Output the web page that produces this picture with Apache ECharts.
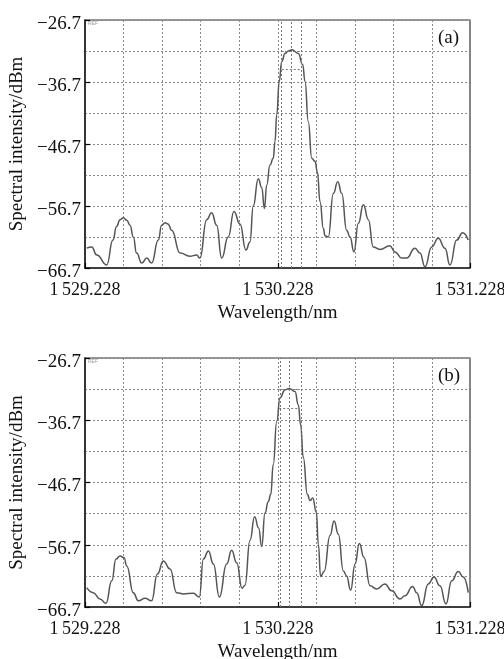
<!DOCTYPE html>
<html>
<head>
<meta charset="utf-8">
<script src="https://cdn.jsdelivr.net/npm/echarts@6/dist/echarts.min.js"></script>
<style>
html,body{margin:0;padding:0;background:#fff;}
#c{width:504px;height:659px;}
</style>
</head>
<body>
<div id="c"></div>
<script>
// ---- data (a) ----
const waveA = [1529.237,1529.263,1529.289,1529.341,1529.373,1529.392,1529.410,1529.427,1529.445,1529.462,1529.479,1529.496,1529.523,1529.549,1529.574,1529.609,1529.626,1529.644,1529.659,1529.678,1529.722,1529.773,1529.808,1529.825,1529.860,1529.886,1529.912,1529.938,1529.972,1530.002,1530.033,1530.064,1530.085,1530.102,1530.128,1530.146,1530.160,1530.172,1530.189,1530.206,1530.215,1530.224,1530.237,1530.250,1530.267,1530.284,1530.302,1530.336,1530.359,1530.371,1530.388,1530.406,1530.423,1530.435,1530.449,1530.466,1530.475,1530.492,1530.518,1530.541,1530.562,1530.587,1530.605,1530.625,1530.648,1530.674,1530.700,1530.725,1530.760,1530.812,1530.838,1530.873,1530.899,1530.942,1530.968,1530.994,1531.029,1531.063,1531.098,1531.124,1531.159,1531.190,1531.219];
const powerA = [-63.5,-63.3,-64.6,-66.2,-62.2,-60.0,-58.9,-58.6,-59.0,-59.8,-61.7,-64.3,-65.9,-65.1,-65.9,-62.2,-59.8,-59.4,-59.6,-60.6,-64.3,-64.8,-64.6,-65.1,-58.9,-57.8,-59.8,-65.1,-61.7,-57.6,-59.6,-63.8,-62.5,-56.7,-52.3,-53.7,-57.1,-53.3,-50.1,-49.0,-46.3,-42.0,-36.6,-33.4,-32.1,-31.7,-31.5,-32.1,-33.9,-36.6,-43.1,-49.0,-49.5,-51.2,-56.0,-60.3,-61.5,-61.7,-54.7,-52.8,-54.7,-60.6,-61.7,-64.1,-59.5,-56.5,-58.9,-63.3,-63.7,-63.1,-64.1,-65.1,-65.1,-63.5,-64.3,-66.5,-63.3,-61.9,-63.5,-66.2,-62.2,-61.0,-62.2];
const markersA = [1530.250, 1530.302, 1530.354];
// ---- data (b) ----
const waveB = [1529.237,1529.271,1529.306,1529.337,1529.367,1529.389,1529.410,1529.431,1529.445,1529.479,1529.505,1529.540,1529.574,1529.604,1529.635,1529.670,1529.704,1529.739,1529.791,1529.822,1529.843,1529.869,1529.895,1529.926,1529.964,1529.990,1530.016,1530.044,1530.059,1530.085,1530.109,1530.130,1530.146,1530.163,1530.180,1530.193,1530.206,1530.224,1530.241,1530.267,1530.289,1530.319,1530.336,1530.348,1530.362,1530.383,1530.397,1530.411,1530.430,1530.440,1530.452,1530.470,1530.501,1530.522,1530.544,1530.570,1530.587,1530.608,1530.631,1530.653,1530.677,1530.709,1530.743,1530.786,1530.821,1530.864,1530.890,1530.930,1530.951,1530.977,1531.011,1531.041,1531.072,1531.103,1531.133,1531.167,1531.193,1531.219];
const powerB = [-63.6,-64.4,-65.4,-66.1,-62.5,-59.0,-58.5,-58.8,-60.1,-64.4,-65.7,-65.3,-65.7,-61.4,-59.3,-60.6,-64.4,-64.6,-64.5,-65.1,-59.0,-57.7,-59.8,-65.1,-59.8,-57.6,-59.6,-63.7,-63.2,-56.0,-52.2,-54.0,-57.0,-51.6,-49.8,-48.6,-43.8,-36.9,-33.1,-31.8,-31.6,-32.1,-34.2,-37.4,-42.7,-48.6,-49.6,-49.2,-51.5,-56.6,-61.8,-61.0,-55.2,-52.9,-55.0,-60.9,-61.7,-64.0,-59.8,-56.5,-58.7,-63.3,-63.8,-63.0,-64.1,-65.4,-64.9,-63.4,-64.4,-66.5,-63.0,-61.9,-63.3,-66.2,-62.5,-61.0,-61.9,-64.4];
const markersB = [1530.237, 1530.289, 1530.345];
const halfLevel = -34.7;
const peakLevel = -31.7;
const xTicks = ['1\u2009529.228', '1\u2009530.228', '1\u2009531.228'];
const xMin = 1529.228, xMax = 1531.228;
const yTicks = [-66.7, -56.7, -46.7, -36.7, -26.7];
const panelLabels = ['(a)', '(b)'];

const FONT = 'Liberation Serif';
const gridColor = '#8a8a8a';

function fmtX(v){ const k = Math.round(v - xMin); return xTicks[k] !== undefined ? xTicks[k] : ''; }
function fmtY(v){ return '{v|\u2212' + Math.abs(v).toFixed(1) + '}'; }

function xAxisCfg(idx){
  return {
    type:'value', gridIndex: idx, min: xMin, max: xMax, interval: 1,
    name:'Wavelength/nm', nameLocation:'middle', nameGap: 36,
    nameTextStyle:{fontFamily:FONT, fontSize:19, color:'#111'},
    axisLine:{show:true, onZero:false, lineStyle:{color:'#222', width:1.6}},
    axisTick:{show:true, inside:true, length:5, lineStyle:{color:'#000', width:1.2}},
    axisLabel:{fontFamily:FONT, fontSize:18, color:'#111', margin:13, formatter: fmtX},
    splitLine:{show:true, lineStyle:{color:gridColor, type:[2,2], width:1}},
    minorTick:{show:false, splitNumber:5},
    minorSplitLine:{show:true, lineStyle:{color:gridColor, type:[2,2], width:1}}
  };
}
function yAxisCfg(idx){
  return {
    type:'value', gridIndex: idx, min: yTicks[0], max: yTicks[yTicks.length-1], interval: 10,
    name:'Spectral intensity/dBm', nameLocation:'middle', nameGap: 53,
    nameTextStyle:{fontFamily:FONT, fontSize:19, color:'#111'},
    axisLine:{show:true, onZero:false, lineStyle:{color:'#222', width:1.6}},
    axisTick:{show:true, inside:true, length:5, lineStyle:{color:'#000', width:1.2}},
    axisLabel:{fontFamily:FONT, fontSize:19, color:'#111', margin:4, formatter: fmtY,
      rich:{v:{fontFamily:FONT, fontSize:19, color:'#111', padding:[8,0,0,0]}}},
    splitLine:{show:true, lineStyle:{color:gridColor, type:[2,2], width:1}},
    minorTick:{show:false, splitNumber:2},
    minorSplitLine:{show:true, lineStyle:{color:gridColor, type:[2,2], width:1}}
  };
}
function seriesCfg(idx, wave, power, markers){
  const mdata = markers.map(m => ({xAxis: m}));
  mdata.push([{coord:[markers[0], halfLevel]},{coord:[markers[markers.length-1], halfLevel]}]);
  mdata.push([{coord:[markers[0], peakLevel]},{coord:[markers[markers.length-1], peakLevel]}]);
  return {
    type:'line', xAxisIndex: idx, yAxisIndex: idx,
    data: wave.map((w,i)=>[w, power[i]]),
    showSymbol:false, smooth:0.5, smoothMonotone:'x',
    lineStyle:{color:'#555', width:1.5},
    markLine:{silent:true, symbol:'none', label:{show:false},
      lineStyle:{color:'#777', type:[2,2], width:1},
      data: mdata}
  };
}

const chart = echarts.init(document.getElementById('c'), null, {renderer:'canvas'});
chart.setOption({
  backgroundColor:'#fff',
  animation:false,
  grid:[
    {left:85, top:20, width:385, height:248, show:true, borderColor:'#333', borderWidth:1.2, containLabel:false, outerBoundsMode:'none'},
    {left:85, top:358, width:385, height:249, show:true, borderColor:'#333', borderWidth:1.2, containLabel:false, outerBoundsMode:'none'}
  ],
  xAxis:[xAxisCfg(0), xAxisCfg(1)],
  yAxis:[yAxisCfg(0), yAxisCfg(1)],
  series:[seriesCfg(0, waveA, powerA, markersA), seriesCfg(1, waveB, powerB, markersB)],
  graphic:[
    {type:'text', left:438, top:29, style:{text:panelLabels[0], font:'19px "Liberation Serif"', fill:'#111'}},
    {type:'text', left:438, top:367, style:{text:panelLabels[1], font:'19px "Liberation Serif"', fill:'#111'}},
    {type:'text', left:88, top:21, style:{text:'REF', font:'5px sans-serif', fill:'#999'}},
    {type:'text', left:88, top:359, style:{text:'REF', font:'5px sans-serif', fill:'#999'}}
  ]
});
</script>
</body>
</html>
